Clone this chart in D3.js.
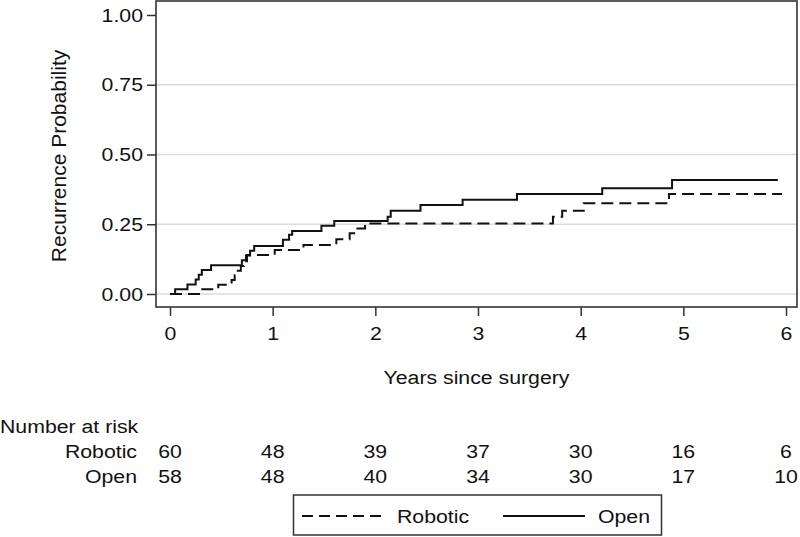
<!DOCTYPE html>
<html>
<head>
<meta charset="utf-8">
<script src="https://cdn.jsdelivr.net/npm/d3@7"></script>
<style>
  html, body { margin: 0; padding: 0; background: #fff; }
  svg { display: block; }
  text { font-family: "Liberation Sans", Arial, sans-serif; fill: #111; }
</style>
</head>
<body>
<svg id="chart" width="800" height="537"></svg>
<script>
// ---------------- data ----------------
const yearTicks = [0, 1, 2, 3, 4, 5, 6];
const probTicks = [0, 0.25, 0.5, 0.75, 1];
const probTickLabels = ["0.00", "0.25", "0.50", "0.75", "1.00"];

const roboticTimes = [0, 0.30, 0.47, 0.60, 0.63, 0.66, 0.69, 0.72, 0.75, 1.02, 1.30, 1.62, 1.75, 1.81, 1.90, 3.73, 3.82, 4.03, 4.86, 5.96];
const roboticProb  = [0, 0.017, 0.033, 0.050, 0.067, 0.083, 0.100, 0.117, 0.140, 0.158, 0.176, 0.196, 0.218, 0.235, 0.253, 0.277, 0.298, 0.325, 0.358, 0.358];

const openTimes = [0, 0.05, 0.17, 0.25, 0.28, 0.31, 0.40, 0.70, 0.74, 0.78, 0.82, 1.10, 1.16, 1.19, 1.475, 1.60, 2.12, 2.15, 2.44, 2.85, 3.38, 4.21, 4.89, 5.92];
const openProb  = [0, 0.017, 0.034, 0.052, 0.069, 0.086, 0.103, 0.121, 0.138, 0.155, 0.172, 0.194, 0.212, 0.226, 0.245, 0.262, 0.277, 0.298, 0.319, 0.338, 0.358, 0.379, 0.409, 0.409];

const groups = ["Robotic", "Open"];
const riskRobotic = [60, 48, 39, 37, 30, 16, 6];
const riskOpen    = [58, 48, 40, 34, 30, 17, 10];

// ---------------- layout ----------------
const SX = 1.12;      // horizontal text stretch seen in the reference
const FS = 19;        // base font size
const frame = { left: 156, right: 797, top: 1, bottom: 307 };

const svg = d3.select("#chart");

const x = d3.scaleLinear().domain([0, 6]).range([170, 786]);
const y = d3.scaleLinear().domain([0, 1]).range([294, 15]);

function addText(g, tx, ty, str, anchor) {
  return g.append("text")
    .attr("transform", `translate(${tx},${ty}) scale(${SX},1)`)
    .attr("text-anchor", anchor || "start")
    .style("font-size", FS + "px")
    .text(str);
}

// gridlines
svg.append("g").selectAll("line")
  .data(probTicks.filter(d => d < 1))
  .join("line")
  .attr("x1", frame.left).attr("x2", frame.right)
  .attr("y1", d => y(d)).attr("y2", d => y(d))
  .attr("stroke", "#dcdcdc").attr("stroke-width", 1.5);

// y axis
const yAxis = svg.append("g")
  .attr("transform", `translate(${frame.left},0)`)
  .call(d3.axisLeft(y).tickValues(probTicks)
    .tickFormat((d, i) => probTickLabels[i]).tickSize(9).tickPadding(4));
yAxis.select(".domain").remove();
yAxis.selectAll(".tick line").attr("stroke", "#333").attr("stroke-width", 1.5);
yAxis.selectAll(".tick text")
  .attr("x", 0)
  .attr("transform", `translate(-13,0) scale(${SX},1)`)
  .style("font-size", FS + "px").attr("fill", "#111");

// x axis
const xAxis = svg.append("g")
  .attr("transform", `translate(0,${frame.bottom})`)
  .call(d3.axisBottom(x).tickValues(yearTicks).tickFormat(d3.format("d")).tickSize(9).tickPadding(11));
xAxis.select(".domain").remove();
xAxis.selectAll(".tick line").attr("stroke", "#333").attr("stroke-width", 1.5);
xAxis.selectAll(".tick text")
  .attr("transform", `scale(${SX},1)`)
  .style("font-size", FS + "px").attr("fill", "#111");

// frame
svg.append("rect")
  .attr("x", frame.left).attr("y", frame.top)
  .attr("width", frame.right - frame.left).attr("height", frame.bottom - frame.top)
  .attr("fill", "none").attr("stroke", "#333").attr("stroke-width", 1.6);

// curves
const line = d3.line().curve(d3.curveStepAfter).x(d => x(d[0])).y(d => y(d[1]));
const roboticData = roboticTimes.map((t, i) => [t, roboticProb[i]]);
const openData = openTimes.map((t, i) => [t, openProb[i]]);

svg.append("path").datum(roboticData)
  .attr("d", line).attr("fill", "none")
  .attr("stroke", "#111").attr("stroke-width", 2)
  .attr("stroke-dasharray", "12,6");
svg.append("path").datum(openData)
  .attr("d", line).attr("fill", "none")
  .attr("stroke", "#111").attr("stroke-width", 2);

// axis titles
addText(svg, (frame.left + frame.right) / 2, 384, "Years since surgery", "middle");
svg.append("text")
  .attr("transform", `translate(66,156) rotate(-90)`)
  .attr("text-anchor", "middle")
  .style("font-size", "21px")
  .text("Recurrence Probability");

// risk table
addText(svg, 0, 433, "Number at risk", "start");
const rows = [riskRobotic, riskOpen];
rows.forEach((vals, r) => {
  const by = 458 + r * 25;
  addText(svg, 137, by, groups[r], "end");
  svg.append("g").selectAll("text")
    .data(vals)
    .join("text")
    .attr("transform", (d, i) => `translate(${x(yearTicks[i])},${by}) scale(${SX},1)`)
    .attr("text-anchor", "middle")
    .style("font-size", FS + "px")
    .text(d => d);
});

// legend
const lg = svg.append("g");
lg.append("rect")
  .attr("x", 293.5).attr("y", 495).attr("width", 368).attr("height", 40)
  .attr("fill", "#fff").attr("stroke", "#333").attr("stroke-width", 1.5);
lg.append("line").attr("x1", 302).attr("x2", 384).attr("y1", 516).attr("y2", 516)
  .attr("stroke", "#111").attr("stroke-width", 2).attr("stroke-dasharray", "11,6");
addText(lg, 397, 523, groups[0], "start");
lg.append("line").attr("x1", 503).attr("x2", 585).attr("y1", 516).attr("y2", 516)
  .attr("stroke", "#111").attr("stroke-width", 2);
addText(lg, 598, 523, groups[1], "start");
</script>
</body>
</html>
